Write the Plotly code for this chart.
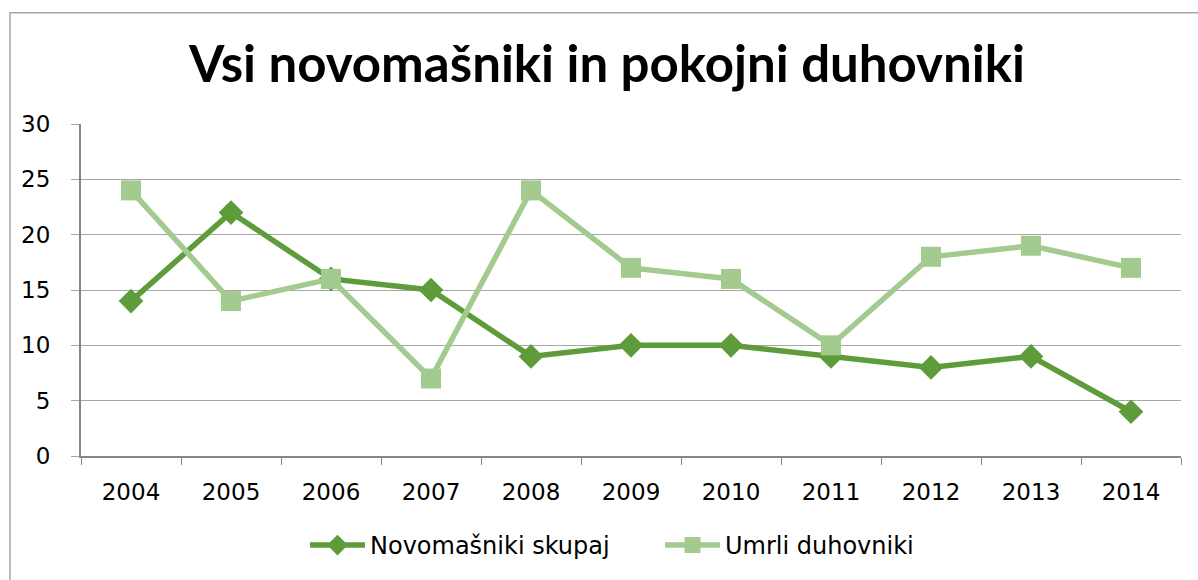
import plotly.graph_objects as go

years = ["2004", "2005", "2006", "2007", "2008", "2009", "2010", "2011", "2012", "2013", "2014"]
novomasniki = [14, 22, 16, 15, 9, 10, 10, 9, 8, 9, 4]
umrli = [24, 14, 16, 7, 24, 17, 16, 10, 18, 19, 17]
y_ticks = [0, 5, 10, 15, 20, 25, 30]

W, H = 1198, 580
L, R, T, B = 81, 1181, 124, 458
pw, ph = R - L, B - T

def px_x(x):
    return (x - L) / pw

def px_y(y):
    return (B - y) / ph

fig = go.Figure()
fig.add_trace(go.Scatter(
    x=years, y=novomasniki, name="Novomašniki skupaj", mode="lines+markers",
    line=dict(color="#5E9B3A", width=5.5),
    marker=dict(symbol="diamond", size=19, color="#5E9B3A"),
))
fig.add_trace(go.Scatter(
    x=years, y=umrli, name="Umrli duhovniki", mode="lines+markers",
    line=dict(color="#A3CB8F", width=5.5),
    marker=dict(symbol="square", size=20, color="#A3CB8F"),
))

fig.update_layout(
    width=W, height=H,
    margin=dict(l=L, r=W - R, t=T, b=H - B, pad=0),
    paper_bgcolor="white", plot_bgcolor="white",
    font=dict(family="DejaVu Sans", size=23, color="#000000"),
    title=dict(
        text="<b>Vsi novomašniki in pokojni duhovniki</b>",
        font=dict(family="Lato", size=51, color="#000000"),
        x=607 / W, xref="container", xanchor="center",
        y=1 - 64 / H, yref="container", yanchor="middle",
    ),
    xaxis=dict(
        type="category", range=[-0.5, 10.5], tickson="boundaries",
        ticks="outside", ticklen=7, tickcolor="#868686", tickwidth=1.3,
        showline=True, linecolor="#868686", linewidth=2,
        showgrid=False, zeroline=False,
        tickfont=dict(family="DejaVu Sans", size=23, color="#000000"),
        ticklabelstandoff=14,
    ),
    yaxis=dict(
        range=[0, 30], tickvals=y_ticks, ticktext=[str(v) for v in y_ticks],
        ticks="outside", ticklen=8, tickcolor="#A6A6A6", tickwidth=1.3,
        showline=True, linecolor="#868686", linewidth=2,
        showgrid=True, gridcolor="#A6A6A6", gridwidth=1.3,
        zeroline=False,
        tickfont=dict(family="DejaVu Sans", size=23, color="#000000"),
        ticklabelstandoff=16,
    ),
    legend=dict(
        orientation="h", x=px_x(305), xanchor="left",
        y=px_y(548), yanchor="middle",
        font=dict(family="DejaVu Sans", size=24, color="#000000"),
        itemwidth=55, entrywidth=285, entrywidthmode="pixels",
        tracegroupgap=0, bgcolor="rgba(0,0,0,0)",
    ),
    showlegend=True,
)

fig.add_shape(
    type="rect", xref="paper", yref="paper",
    x0=px_x(10), x1=px_x(1205), y0=px_y(590), y1=px_y(12),
    line=dict(color="#A6A6A6", width=1.5), fillcolor="rgba(0,0,0,0)", layer="below",
)

fig.write_html(
    "out.html",
    config={"displayModeBar": False},
    post_script="document.body.style.margin='0';document.body.style.overflow='hidden';",
)
